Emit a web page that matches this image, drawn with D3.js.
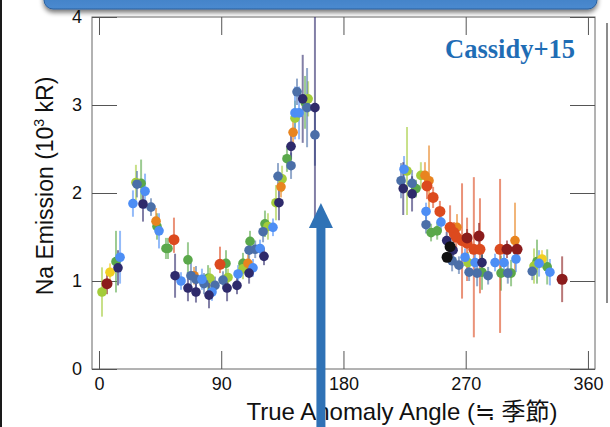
<!DOCTYPE html>
<html><head><meta charset="utf-8">
<script src="https://cdn.jsdelivr.net/npm/d3@7"></script>
<style>html,body{margin:0;padding:0;background:#fff;overflow:hidden}</style>
</head><body>
<svg id="c" width="610" height="427"></svg>
<script>
// ---- data ----
const xTicks = [0, 90, 180, 270, 360];
const yTicks = [0, 1, 2, 3, 4];
const xTitle = "True Anomaly Angle (≒ 季節)";
const noteText = "Cassidy+15";
// each point: [true anomaly (deg), Na emission (10^3 kR), error down, error up]
const navyPts = [
  [14,1.15,.2,.2],[32.4,1.875,.2,.2],[56,1.06,.25,.25],[65.5,.92,.15,.15],[71.4,.875,.12,.12],
  [81,.84,.15,.15],[94.3,.92,.15,.15],[101.6,.95,.1,.1],[110.5,1.09,.12,.12],[121.5,1.28,.1,.1],
  [132.5,1.89,.2,.2],[141.4,2.53,.15,.15],[150,3.07,.5,.5],[159,2.97,1.25,1.3],
  [224,2.05,.3,.3],[230.5,1.99,.2,.2],[256,1.46,.1,.1],[260.7,1.35,.1,.1],[282,1.21,.1,.1]
];
const steelPts = [
  [28,2.10,.15,.15],[38.3,1.84,.1,.1],[67.7,1.06,.15,.15],[71.4,1.02,.15,.15],[77.3,.97,.12,.12],
  [85.4,.95,.1,.1],[91.3,1.01,.1,.1],[110.5,1.35,.1,.1],[115,1.36,.1,.1],[120.8,1.56,.12,.12],
  [131.8,2.19,.15,.15],[141.4,2.31,.15,.15],[145.8,3.15,.15,.15],[153.2,2.97,.45,.45],[159,2.66,.35,.35],
  [222.4,2.14,.2,.2],[230.5,2.11,.15,.15],[240.8,1.64,.1,.1],[260,1.23,.12,.12],[265,1.18,.1,.1],
  [272.5,1.10,.1,.1],[278.4,1.09,.15,.15],[286.5,1.06,.1,.1],[301,1.09,.12,.12],[319,1.11,.1,.1]
];
const bluePts = [
  [15.5,1.27,.3,.3],[25,1.88,.15,.15],[33.9,2.02,.2,.2],[44.2,1.57,.2,.2],[60.4,1.0,.1,.1],
  [75.8,1.02,.12,.12],[83.2,.875,.1,.1],[102.4,1.08,.1,.1],[113.4,1.15,.1,.1],[118.6,1.37,.1,.1],
  [128.1,1.61,.1,.1],[144.3,2.91,.3,.3],[147.3,2.91,.3,.3],[224.6,2.27,.15,.15],[240.8,1.79,.1,.1],
  [251.8,1.67,.1,.1],[269.5,1.27,.1,.1],[276.9,1.21,.1,.1],[291.6,1.21,.1,.1],[298.2,1.21,.12,.12],
  [307,1.25,.15,.15],[324,1.20,.15,.15],[332,1.10,.15,.15]
];
const greenPts = [
  [12.5,1.22,.35,.35],[31,2.11,.27,.27],[42.7,1.62,.15,.15],[49.3,1.37,.12,.12],[50.8,1.37,.12,.12],
  [65.5,1.24,.2,.2],[80.3,1.03,.15,.15],[93.5,1.2,.15,.15],[106,1.2,.12,.12],[111.2,1.45,.12,.12],
  [122.2,1.65,.15,.15],[138.4,2.39,.15,.15],[151.7,3.03,.3,.3],[233.4,2.05,.1,.1],[244.5,1.55,.1,.1],
  [249,1.57,.1,.1],[282,1.10,.2,.2],[296,1.09,.2,.2],[303.4,1.09,.15,.15],[322.5,1.22,.25,.25],[330,1.16,.2,.2]
];
const limePts = [
  [2.2,.875,.28,.28],[27.2,2.12,.2,.2],[81.7,1.03,.12,.12],[95,1.04,.1,.1],[106,1.14,.12,.12],
  [124.4,1.62,.15,.15],[130.3,1.89,.2,.2],[134.8,2.16,.15,.15],[144.3,2.85,.2,.2],[154,3.07,.2,.2],
  [226.8,2.25,.5,.5],[237,2.2,.15,.15],[271.7,1.21,.12,.12],[320.3,1.17,.2,.2]
];
const yellowPts = [[8.1,1.10,.1,.1],[326.2,1.25,.1,.1]];
const orangePts = [
  [42,1.68,.15,.15],[70,1.06,.1,.1],[109.7,1.2,.1,.1],[134,2.07,.12,.12],[142.9,2.69,.15,.15],
  [240,2.2,.15,.15],[243,2.14,.35,.4],[263.6,1.61,.15,.15],[306.3,1.46,.36,.43]
];
const redPts = [
  [55.2,1.47,.15,.25],[89.1,1.19,.1,.2],[241.5,2.08,.15,.15],[246,1.95,.12,.12],[251,1.79,.12,.12],
  [258.5,1.61,.25,.25],[261.4,1.55,.12,.12],[263,1.50,.15,.15],[267.3,1.46,.66,.65],[271,1.43,.43,.29],
  [276,1.36,1.0,.82],[280.5,1.36,.5,.58],[295.3,1.36,.95,.8]
];
const darkRedPts = [
  [5.9,.97,.12,.12],[271,1.49,.1,.1],[279.8,1.51,.15,.15],[300.4,1.36,.1,.1],[307.8,1.36,.12,.12],[341,1.02,.26,.26]
];
const blackPts = [[258.5,1.39,.05,.05],[256.3,1.27,.05,.05]];

const seriesData = [greenPts, limePts, yellowPts, orangePts, redPts, darkRedPts, steelPts, bluePts, navyPts, blackPts];
const seriesColors = ["#5aa84a", "#a3cc3a", "#f2cf22", "#e8841f", "#dc4a1e", "#8b1c1c", "#4b6fa8", "#4d8ef5", "#2e2a6b", "#111111"];

// ---- drawing ----
(function () {
const svg = d3.select("#c");
const W = 610, H = 427;
const pL = 92, pR = 595, pT = 17, pB = 369;
const x = d3.scaleLinear().domain([-5.15, 365.2]).range([pL, pR]);
const y = d3.scaleLinear().domain([0, 4]).range([pB, pT]);

const defs = svg.append("defs");
const f = defs.append("filter").attr("id","sh").attr("x","-10%").attr("y","-50%").attr("width","120%").attr("height","250%");
f.append("feGaussianBlur").attr("in","SourceAlpha").attr("stdDeviation",2.5);
f.append("feOffset").attr("dx",0).attr("dy",3).attr("result","ob");
f.append("feComponentTransfer").append("feFuncA").attr("type","linear").attr("slope",0.55);
const m = f.append("feMerge"); m.append("feMergeNode"); m.append("feMergeNode").attr("in","SourceGraphic");
const g = defs.append("linearGradient").attr("id","bg").attr("x1",0).attr("y1",0).attr("x2",0).attr("y2",1);
g.append("stop").attr("offset","0%").attr("stop-color","#3270b4");
g.append("stop").attr("offset","100%").attr("stop-color","#4a8ad0");
defs.append("clipPath").attr("id","clip").append("rect")
  .attr("x",pL).attr("y",pT).attr("width",pR-pL).attr("height",pB-pT);

// slide decorations
svg.append("rect").attr("x",44).attr("y",-30).attr("width",553).attr("height",39).attr("rx",9)
  .attr("fill","url(#bg)").attr("stroke","#2a5f9e").attr("stroke-width",1).attr("filter","url(#sh)");
svg.append("rect").attr("x",0).attr("y",0).attr("width",2).attr("height",H).attr("fill","#1a1a1a");
svg.append("line").attr("x1",607).attr("x2",607).attr("y1",23).attr("y2",303)
  .attr("stroke","#666").attr("stroke-width",1.5);

// frame
svg.append("rect").attr("x",pL).attr("y",pT).attr("width",pR-pL).attr("height",pB-pT)
  .attr("fill","none").attr("stroke","#666").attr("stroke-width",1);

const axStyle = sel => {
  sel.select(".domain").remove();
  sel.selectAll(".tick line").attr("stroke","#555").attr("stroke-width",1);
  sel.selectAll(".tick text").attr("fill","#111").style("font-family","'Liberation Sans', Arial, sans-serif").style("font-size","18px");
};
const fmt = d3.format("d");
svg.append("g").attr("transform",`translate(0,${pB})`)
  .call(d3.axisBottom(x).tickValues(xTicks).tickFormat(fmt).tickSizeInner(-18).tickSizeOuter(0).tickPadding(8)).call(axStyle);
svg.append("g").attr("transform",`translate(0,${pT})`)
  .call(d3.axisTop(x).tickValues(xTicks).tickSizeInner(-18).tickSizeOuter(0).tickFormat("")).call(axStyle);
svg.append("g").attr("transform",`translate(${pL},0)`)
  .call(d3.axisLeft(y).tickValues(yTicks).tickFormat(fmt).tickSizeInner(-25).tickSizeOuter(0).tickPadding(10)).call(axStyle);
svg.append("g").attr("transform",`translate(${pR},0)`)
  .call(d3.axisRight(y).tickValues(yTicks).tickSizeInner(-25).tickSizeOuter(0).tickFormat("")).call(axStyle);

// data
const plot = svg.append("g").attr("clip-path","url(#clip)");
seriesData.forEach((pts, i) => {
  plot.append("g").selectAll("line").data(pts).join("line")
    .attr("x1", d => x(d[0])).attr("x2", d => x(d[0]))
    .attr("y1", d => y(d[1] - d[2])).attr("y2", d => y(d[1] + d[3]))
    .attr("stroke", seriesColors[i]).attr("stroke-opacity", 0.6).attr("stroke-width", 2);
});
seriesData.forEach((pts, i) => {
  plot.append("g").selectAll("circle").data(pts).join("circle")
    .attr("cx", d => x(d[0])).attr("cy", d => y(d[1]))
    .attr("r", i === 5 || i === 4 || i === 9 ? 5.5 : 4.8)
    .attr("fill", seriesColors[i]);
});

// texts
svg.append("text").attr("x",575).attr("y",58).attr("text-anchor","end")
  .style("font-family","'Liberation Serif', 'Times New Roman', serif").style("font-weight","bold")
  .style("font-size","26.5px").attr("fill","#1f6db5").text(noteText);

const yl = svg.append("text").attr("transform","translate(53,186) rotate(-90)").attr("text-anchor","middle")
  .style("font-family","'Liberation Sans', Arial, sans-serif").style("font-size","23px").attr("fill","#111");
yl.append("tspan").text("Na Emission (10");
yl.append("tspan").attr("dy",-9).style("font-size","14px").text("3");
yl.append("tspan").attr("dy",9).text(" kR)");

svg.append("text").attr("x",402).attr("y",420).attr("text-anchor","middle")
  .style("font-family","'Liberation Sans', Arial, 'Noto Sans CJK JP', sans-serif").style("font-size","24px")
  .attr("fill","#111").text(xTitle);

// arrow
const ax = x(163.4);
svg.append("rect").attr("x",ax-4.5).attr("y",225).attr("width",9).attr("height",H-225).attr("fill","#2f72b6");
svg.append("path").attr("d",`M${ax-12},228 L${ax},203 L${ax+12},228 Z`).attr("fill","#2f72b6");
})();
</script>
</body></html>
